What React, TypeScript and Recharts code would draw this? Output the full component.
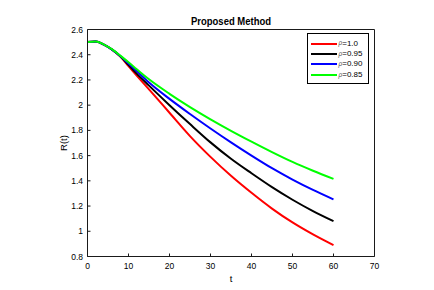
import React from 'react';
import { LineChart, Line, XAxis, YAxis, Legend, Label } from 'recharts';

const tValues = [0, 2, 4, 6, 8, 10, 12, 15, 20, 25, 30, 35, 40, 45, 50, 55, 60];
const rho100 = [2.5, 2.505, 2.48, 2.44, 2.385, 2.31, 2.235, 2.125, 1.94, 1.755, 1.59, 1.44, 1.305, 1.18, 1.07, 0.975, 0.89];
const rho095 = [2.5, 2.505, 2.48, 2.44, 2.387, 2.32, 2.25, 2.155, 2.0, 1.85, 1.705, 1.575, 1.46, 1.35, 1.25, 1.16, 1.08];
const rho090 = [2.5, 2.505, 2.48, 2.44, 2.39, 2.33, 2.27, 2.18, 2.05, 1.93, 1.815, 1.705, 1.6, 1.5, 1.41, 1.328, 1.253];
const rho085 = [2.5, 2.505, 2.48, 2.442, 2.393, 2.34, 2.285, 2.205, 2.09, 1.985, 1.888, 1.797, 1.711, 1.628, 1.55, 1.48, 1.415];

const xTicks = [0, 10, 20, 30, 40, 50, 60, 70];
const yTicks = [0.8, 1, 1.2, 1.4, 1.6, 1.8, 2, 2.2, 2.4, 2.6];

const seriesNames = ['=1.0', '=0.95', '=0.90', '=0.85'];
const seriesKeys = ['r100', 'r095', 'r090', 'r085'];
const seriesColors = ['#ff0000', '#000000', '#0000ff', '#00ff00'];
const seriesValues = [rho100, rho095, rho090, rho085];

const data = tValues.map((t, i) => {
  const row: Record<string, number> = { t };
  seriesKeys.forEach((k, j) => {
    row[k] = seriesValues[j][i];
  });
  return row;
});

const FONT = '"Liberation Sans", Arial, Helvetica, sans-serif';
const AXIS_COLOR = '#1a1a1a';

const renderLegend = (props: any) => {
  const payload = (props.payload || []).filter((e: any) => seriesKeys.includes(e.dataKey));
  const ordered = seriesKeys
    .map((k) => payload.find((e: any) => e.dataKey === k))
    .filter(Boolean);
  return (
    <div
      style={{
        border: '1px solid #000',
        background: '#fff',
        width: 62,
        height: 51,
        boxSizing: 'border-box',
        paddingTop: 5,
        paddingLeft: 3,
        fontFamily: FONT,
        fontSize: 8,
        color: '#000',
        lineHeight: 1,
      }}
    >
      {ordered.map((entry: any, i: number) => (
        <div key={i} style={{ display: 'flex', alignItems: 'center', height: 10.4 }}>
          <div style={{ width: 26, height: 2, background: entry.color, marginRight: 2 }} />
          <span style={{ fontSize: 6.5, color: '#555', fontStyle: 'italic' }}>ρ</span>
          <span>{entry.value}</span>
        </div>
      ))}
    </div>
  );
};

export default function App() {
  return (
    <div style={{ position: 'absolute', left: 0, top: 0, width: 434, height: 290, background: '#fff' }}>
      <LineChart
        width={434}
        height={290}
        data={data}
        margin={{ top: 28.5, right: 58.5, bottom: 8.5, left: 7.5 }}
      >
        <XAxis
          dataKey="t"
          type="number"
          domain={[0, 70]}
          ticks={xTicks}
          allowDataOverflow
          height={25}
          axisLine={{ stroke: AXIS_COLOR }}
          tickLine={{ stroke: AXIS_COLOR }}
          tickSize={-3}
          tickMargin={9}
          tick={{ fill: '#000', fontSize: 8.5, fontFamily: FONT }}
        >
          <Label value="t" position="insideBottom" offset={0} style={{ fill: '#000', fontSize: 9.5, fontFamily: FONT }} />
        </XAxis>
        <XAxis
          xAxisId="top"
          orientation="top"
          dataKey="t"
          type="number"
          domain={[0, 70]}
          ticks={xTicks}
          allowDataOverflow
          height={1}
          axisLine={{ stroke: AXIS_COLOR }}
          tickLine={{ stroke: AXIS_COLOR }}
          tickSize={-3}
          tick={false}
        >
          <Label
            content={() => (
              <text
                x={231}
                y={25}
                textAnchor="middle"
                fontFamily={FONT}
                fontWeight="bold"
                fontSize={10.5}
                fill="#000"
                textLength={80}
                lengthAdjust="spacingAndGlyphs"
              >
                Proposed Method
              </text>
            )}
          />
        </XAxis>
        <YAxis
          type="number"
          domain={[0.8, 2.6]}
          ticks={yTicks}
          allowDataOverflow
          width={80}
          axisLine={{ stroke: AXIS_COLOR }}
          tickLine={{ stroke: AXIS_COLOR }}
          tickSize={-3}
          tickMargin={7.5}
          tick={{ fill: '#000', fontSize: 8.5, fontFamily: FONT }}
        >
          <Label
            content={() => (
              <text
                x={66.5}
                y={143}
                transform="rotate(-90, 66.5, 143)"
                textAnchor="middle"
                fontFamily={FONT}
                fontSize={9.5}
                fill="#000"
              >
                R(t)
              </text>
            )}
          />
        </YAxis>
        <YAxis
          yAxisId="right"
          orientation="right"
          type="number"
          domain={[0.8, 2.6]}
          ticks={yTicks}
          allowDataOverflow
          width={1}
          axisLine={{ stroke: AXIS_COLOR }}
          tickLine={{ stroke: AXIS_COLOR }}
          tickSize={-3}
          tick={false}
        />
        <Legend
          layout="vertical"
          align="center"
          verticalAlign="middle"
          content={renderLegend}
          wrapperStyle={{ position: 'absolute', left: 306.5, top: 32.5, width: 62, height: 51 }}
        />
        <Line
          xAxisId="top"
          yAxisId="right"
          dataKey="r100"
          name="frame"
          stroke="none"
          legendType="none"
          dot={false}
          activeDot={false}
          isAnimationActive={false}
        />
        {seriesKeys.map((k, j) => (
          <Line
            key={k}
            type="monotone"
            dataKey={k}
            name={seriesNames[j]}
            stroke={seriesColors[j]}
            strokeWidth={2}
            dot={false}
            isAnimationActive={false}
          />
        ))}
      </LineChart>
    </div>
  );
}
